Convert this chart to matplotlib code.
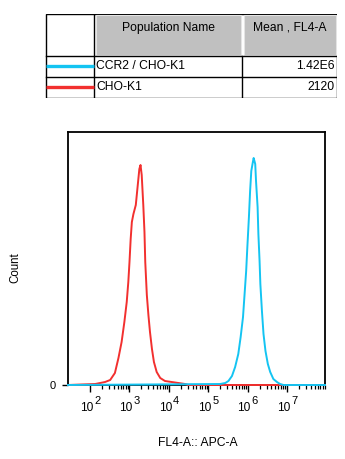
import matplotlib
matplotlib.use("Agg")
import matplotlib.pyplot as plt
import matplotlib.patches as mpatches
from matplotlib.ticker import FixedLocator, NullFormatter
import numpy as np

plt.rcParams["font.family"] = ["Liberation Sans", "DejaVu Sans"]

W, H = 345, 459
BLUE = "#14C4F2"
RED = "#F2302F"

# population table
pop_names = ["CCR2 / CHO-K1", "CHO-K1"]
pop_means = ["1.42E6", "2120"]
pop_colors = [BLUE, RED]

# histograms (log10 FL4-A, count)
red_log = [2.13, 2.38, 2.51, 2.63, 2.72, 2.80, 2.87, 2.93, 2.97, 3.00, 3.03,
           3.06, 3.10, 3.16, 3.20, 3.25, 3.28, 3.31, 3.35, 3.38, 3.40, 3.44,
           3.48, 3.52, 3.57, 3.62, 3.69, 3.78, 3.90, 4.07, 4.24, 4.41, 4.49]
red_cnt = [1, 3, 5, 12, 27, 43, 63, 83, 103, 123, 146,
           163, 171, 180, 196, 216, 220, 210, 180, 153, 123, 90,
           70, 53, 36, 23, 13, 7, 4, 3, 2, 1, 0]

blue_log = [5.30, 5.43, 5.51, 5.60, 5.68, 5.76, 5.82, 5.88, 5.92, 5.96, 5.99,
            6.03, 6.06, 6.09, 6.13, 6.15, 6.19, 6.21, 6.25, 6.27, 6.30, 6.32,
            6.36, 6.40, 6.45, 6.51, 6.57, 6.65, 6.74, 6.82, 6.91]
blue_cnt = [1, 2, 4, 9, 18, 31, 48, 68, 91, 114, 138,
            168, 194, 214, 223, 227, 221, 204, 178, 151, 124, 101,
            74, 51, 34, 21, 13, 6, 3, 1, 0]

decades = [2, 3, 4, 5, 6, 7]
x_lo, x_hi = 10 ** 1.44, 10 ** 7.96
y_hi = 253

fig = plt.figure(figsize=(W / 100, H / 100), dpi=100, facecolor="white")


def fx(px):
    return px / W


def fy(py):
    return 1 - py / H


# ── table ─────────────────────────────────────────────
tb = fig.add_axes([fx(45), fy(98), fx(292), 84 / H])
tb.set_xlim(45, 337); tb.set_ylim(98, 14); tb.axis("off")

tb.add_patch(mpatches.Rectangle((45.5, 14), 291, 83.5, facecolor="none",
                                edgecolor="black", lw=1.0))
tb.plot([45.5, 336.5], [55.5, 55.5], color="black", lw=1.0)
tb.plot([45.5, 336.5], [76.5, 76.5], color="black", lw=1.0)
tb.plot([94, 94], [14, 97.5], color="black", lw=1.0)
tb.plot([242, 242], [55.5, 97.5], color="black", lw=1.0)

for x0, x1 in [(95.5, 241), (243.5, 336)]:
    tb.add_patch(mpatches.Rectangle((x0, 15), x1 - x0, 39.5, facecolor="#C0C0C0",
                                    edgecolor="#E4E4E4", lw=0.8))

tb.text(168, 28, "Population Name", fontsize=8.7, ha="center", va="center")
tb.text(289.5, 28, "Mean , FL4-A", fontsize=8.7, ha="center", va="center")

for i, (name, mean, c) in enumerate(zip(pop_names, pop_means, pop_colors)):
    yc = 66 + i * 21
    tb.plot([45.5, 94], [yc, yc], color=c, lw=2.4, solid_capstyle="butt")
    tb.text(96, yc, name, fontsize=8.7, ha="left", va="center")
    tb.text(335, yc, mean, fontsize=8.7, ha="right", va="center")

# ── histogram ─────────────────────────────────────────
ax = fig.add_axes([fx(68), fy(385), fx(325 - 68), (385 - 132) / H])
ax.set_xscale("log")
ax.set_xlim(x_lo, x_hi)
ax.set_ylim(0, y_hi)

for lg, cnt, c in [(red_log, red_cnt, RED), (blue_log, blue_cnt, BLUE)]:
    xs = np.concatenate([[x_lo], 10 ** np.array(lg), [x_hi]])
    ys = np.concatenate([[0], cnt, [0]])
    ax.plot(xs, ys, color=c, lw=1.4, clip_on=False, zorder=5)

for s in ax.spines.values():
    s.set_linewidth(1.3)

ax.xaxis.set_major_locator(FixedLocator([10.0 ** d for d in decades]))
ax.xaxis.set_minor_locator(FixedLocator([m * 10.0 ** d for d in decades for m in range(2, 10)]))
ax.xaxis.set_major_formatter(NullFormatter())
ax.xaxis.set_minor_formatter(NullFormatter())
ax.tick_params(axis="x", which="major", length=5, width=1.0, direction="out")
ax.tick_params(axis="x", which="minor", length=2.8, width=0.9, direction="out")

ax.set_yticks([0])
ax.set_yticklabels(["0"], fontsize=8)
ax.tick_params(axis="y", length=4.5, width=1.0, pad=4)

for d in decades:
    ax.annotate("10", xy=(10.0 ** d, 0), xycoords=("data", "axes fraction"),
                xytext=(3, -23), textcoords="offset pixels",
                ha="right", va="center", fontsize=8.6)
    ax.annotate(str(d), xy=(10.0 ** d, 0), xycoords=("data", "axes fraction"),
                xytext=(4, -16), textcoords="offset pixels",
                ha="left", va="center", fontsize=8)

fig.text(fx(15), fy(268), "Count", fontsize=8.3, rotation=90, ha="center", va="center")
fig.text(fx(198), fy(443), "FL4-A:: APC-A", fontsize=8.7, ha="center", va="center")

fig.savefig("out.png", dpi=100, facecolor="white")
